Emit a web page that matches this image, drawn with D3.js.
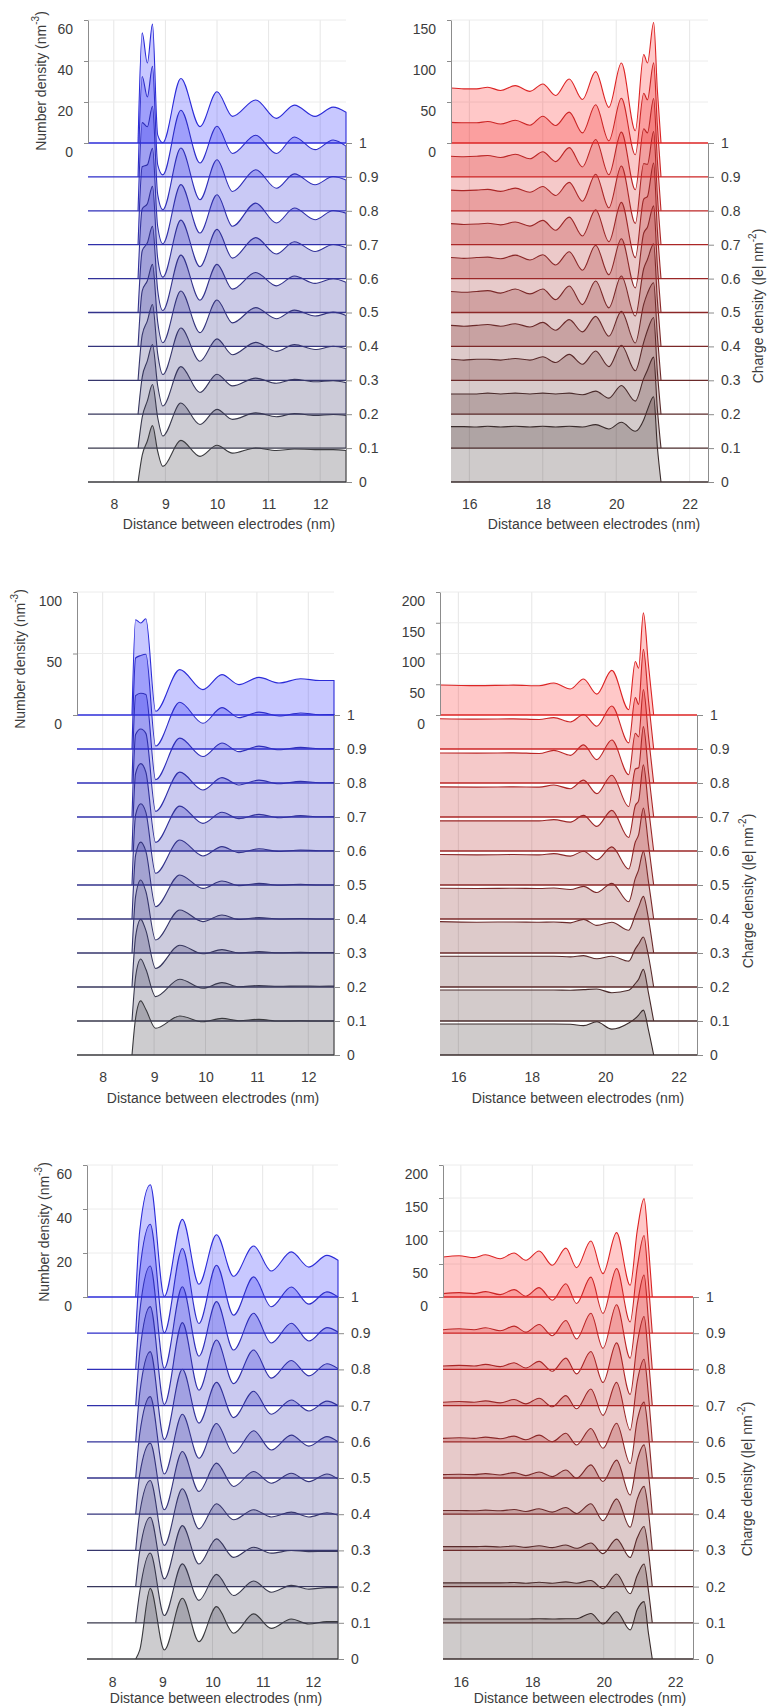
<!DOCTYPE html>
<html>
<head>
<meta charset="utf-8">
<script src="https://cdn.jsdelivr.net/npm/d3@7"></script>
<style>
  body { margin: 0; background: #fff; }
  text { font-family: "Liberation Sans", Arial, Helvetica, sans-serif; fill: #3c3c3c; }
</style>
</head>
<body>
<svg id="fig" width="767" height="1708"></svg>
<script>
// surface charge density of each curve (|e| nm^-2), bottom to top
const charges = [0, 0.1, 0.2, 0.3, 0.4, 0.5, 0.6, 0.7, 0.8, 0.9, 1];
const chargeLabels = ["0", "0.1", "0.2", "0.3", "0.4", "0.5", "0.6", "0.7", "0.8", "0.9", "1"];

const xTicksAnion = [8, 9, 10, 11, 12];
const xTicksCation = [16, 18, 20, 22];

// row 1, left: positions (nm) of the read-off points, then one density row per charge
const row1AnionX = [8.47, 8.55, 8.65, 8.75, 8.85, 8.95, 9.3, 9.67, 10.0, 10.3, 10.75, 11.15, 11.5, 11.9, 12.25, 12.5];
const row1Anion = [
  [0, 13, 20, 27.5, 15, 7.6, 20.3, 12.5, 17.9, 14.1, 16.6, 15.4, 16.1, 15.8, 15.8, 15.4],
  [0, 15, 23, 31, 15, 5.9, 22, 11.5, 18.9, 14, 17.2, 15.3, 16.9, 15.9, 16.4, 15.9],
  [0, 18, 26, 34, 14, 4, 23.2, 10.6, 19.5, 13.8, 17.6, 15.1, 17, 15.8, 16.3, 15.4],
  [0, 22, 29, 37, 13, 2.8, 25.5, 9.3, 20.2, 12.5, 18.5, 14.1, 17.4, 15, 16.6, 15.4],
  [0, 27, 32, 40, 12, 1.8, 27, 6.7, 22.6, 11.5, 18.9, 13.5, 17.7, 14.8, 16.7, 15.1],
  [0, 30, 34, 42, 11, 1, 28, 6, 23.5, 11.4, 19.5, 13, 17.8, 14.2, 16.5, 14.8],
  [0, 34, 36.5, 45, 10, 0.7, 28.5, 5.8, 24, 10, 20, 12, 18, 13.2, 16.6, 15],
  [0, 38, 39, 47, 9, 0.5, 29.3, 5.7, 24.4, 9, 20.3, 10.6, 17.9, 12.2, 16.7, 15.4],
  [0, 43, 41, 51, 8, 0.5, 30.6, 5.4, 24.9, 9.4, 20, 11, 18, 12.7, 16.7, 15],
  [0, 49, 39, 54, 6, 1, 32.5, 6.8, 24.7, 11.4, 20.3, 11.4, 19.5, 13.3, 18, 15],
  [0, 53.7, 39, 58, 4, 0.2, 31.5, 8, 25, 13, 21, 12, 18.5, 13, 17.5, 15]
];

// row 1, right
const row1CationX = [15.5, 15.85, 16.2, 16.5, 16.85, 17.25, 17.65, 18.0, 18.35, 18.72, 19.08, 19.44, 19.8, 20.14, 20.52, 20.75, 20.85, 21.02, 21.12, 21.22];
const row1Cation = [
  [67.5, 67.5, 67, 68, 67, 68, 67, 68, 67, 68, 67, 70, 64.6, 72.8, 61.8, 76, 88, 104, 43, 0],
  [66, 66, 66, 67, 66, 67, 66, 67, 66, 67, 65, 69.5, 61, 76.4, 57.3, 85, 95, 111, 48, 0],
  [67, 66, 67, 67, 66, 68, 66, 70, 63, 73, 61, 77, 58, 84, 53, 88, 102, 118, 52, 0],
  [67, 66, 67, 68, 66, 69, 65, 70.7, 61, 74, 59, 78, 53.7, 84, 45.5, 93, 106, 119, 55, 0],
  [67, 66, 67, 68, 65, 70, 64, 70, 57, 73.6, 51, 79.7, 47, 85.8, 37, 95, 106, 125, 57, 0],
  [67, 66, 67, 67.5, 65.5, 70, 64, 70.5, 58, 74, 51.5, 82, 46, 90, 30, 97, 104, 130, 58, 0],
  [67, 66, 66.5, 67.5, 65.5, 69, 64, 71, 59, 75, 52, 84, 45, 93, 25.6, 97, 100, 141, 60, 0],
  [66.5, 66, 66.5, 67.5, 65, 69, 64, 71, 60, 76, 53, 86, 45, 96, 26, 99, 98, 138, 61, 0],
  [66.5, 66, 66.5, 67.5, 65, 69, 63.5, 72, 60, 77, 53.5, 87, 44, 96, 25.6, 100, 95, 137, 62, 0],
  [66.5, 66, 66, 67.5, 64.5, 69, 63, 74, 62.6, 79, 53.7, 88, 44, 96, 27, 102, 94, 139, 63, 0],
  [67, 66, 66, 68, 64, 70, 63, 72, 58, 78, 53, 87, 43.5, 97.6, 15, 108, 97.6, 147, 65, 0]
];

// row 2, left
const row2AnionX = [8.57, 8.64, 8.74, 8.84, 9.03, 9.5, 9.95, 10.32, 10.65, 11.04, 11.43, 11.85, 12.22, 12.5];
const row2Anion = [
  [0, 30, 44, 37, 21.7, 31.7, 27, 29.8, 27.9, 29, 27.6, 27.8, 27.6, 27.6],
  [0, 36, 50.4, 42, 19.8, 33.9, 26.6, 31.2, 27.9, 28.8, 28.2, 28.5, 28.3, 28.4],
  [0, 41, 55, 46, 15, 33.9, 27, 30.4, 27.6, 28.8, 27.8, 28.2, 28, 28],
  [0, 46, 59.3, 50, 10.6, 35, 25.5, 30.9, 27.2, 28.8, 27.6, 28, 27.6, 27.6],
  [0, 52, 62.5, 55, 10, 35.8, 24.9, 30.9, 27.1, 29, 27.4, 28.2, 27.6, 27.6],
  [0, 57, 66, 59, 9.5, 36.6, 23.6, 31.2, 26.3, 29.5, 27.2, 28.5, 27.8, 27.9],
  [0, 63, 71, 64, 7, 36.5, 22.5, 31.5, 26.3, 29.8, 27, 28.8, 27.8, 28],
  [0, 67, 71.5, 68, 4.6, 36.5, 22, 32, 26, 30, 27, 29, 27.8, 28],
  [0, 71, 73, 72, 2.7, 36.5, 21.5, 32.5, 25.5, 30, 27, 29, 27.8, 28],
  [0, 74, 76, 77, 2.4, 38, 20.9, 33.6, 25.5, 30, 26.8, 29.3, 27.9, 28],
  [0, 77.5, 74.8, 78.3, 3, 36.9, 20.6, 32.8, 24.7, 30.6, 26, 29.5, 28, 28]
];

// row 2, right
const row2CationX = [15.5, 16.5, 17.5, 18.2, 18.6, 19.05, 19.41, 19.77, 20.18, 20.64, 20.82, 20.91, 21.04, 21.18, 21.32];
const row2Cation = [
  [50.4, 50.4, 50.4, 50.4, 50.4, 50, 47.7, 54, 42, 52, 59.6, 65, 73, 40, 0],
  [50.4, 50.4, 50.4, 50.4, 50.4, 50, 51, 52, 46, 50, 61, 68, 84, 45, 0],
  [50, 50, 50, 50, 50, 49, 51, 46, 50, 42, 62, 70, 81.3, 50, 0],
  [51, 50, 50.5, 50, 50.5, 49, 54.7, 45, 50, 37, 61.8, 75, 92, 55, 0],
  [50, 49.5, 50, 49.5, 50.5, 48, 53, 43, 58, 28, 66, 80, 110, 60, 0],
  [49.5, 49, 49.5, 49, 51, 47, 55, 41, 62, 26, 70, 82, 125, 65, 0],
  [49, 49, 49, 49, 51, 47, 58, 40, 66, 22, 74, 82, 140, 70, 0],
  [49, 48.5, 49, 48.5, 52, 46, 60, 38, 68, 17, 78, 80, 147, 72, 0],
  [48.8, 48.5, 49, 48, 53, 45, 62, 38, 70, 13.5, 81, 75, 152, 75, 0],
  [49.3, 48.5, 49, 48, 51, 44, 56, 37, 70, 10, 83.5, 72.6, 162, 78, 0],
  [48.8, 47.7, 48.5, 47.5, 52, 42.3, 58.5, 34, 72.6, 8.7, 87, 76, 166, 80, 0]
];

// row 3, left
const row3AnionX = [8.47, 8.55, 8.76, 9.04, 9.4, 9.73, 10.08, 10.42, 10.82, 11.17, 11.57, 11.92, 12.28, 12.5];
const row3Anion = [
  [0, 4, 32.1, 4.1, 27.6, 7.9, 23.8, 11.7, 20.5, 13.9, 18.2, 15.9, 17, 17],
  [0, 14, 31.7, 3.3, 26.8, 10.2, 22, 12.4, 19, 13.9, 17, 15.3, 16, 16],
  [0, 16, 31.5, 3.5, 27.7, 10.3, 21.7, 13.3, 17.9, 15.2, 16.4, 15.9, 16, 16],
  [0, 17, 31.8, 2.3, 28, 9.8, 21.2, 13.9, 18.5, 15.2, 17.4, 15.2, 17.1, 16],
  [0, 18, 32.3, 2, 28.5, 10.3, 23.2, 12.6, 19.4, 14.1, 18.6, 14.8, 18.3, 16],
  [0, 20, 37, 1.8, 29, 9, 24.8, 11.2, 21.5, 12.7, 19.5, 14.5, 18.8, 16.5],
  [0, 22, 41, 1, 33, 8.5, 27, 11, 23, 12.5, 19, 14, 18.5, 16.5],
  [0, 24, 45, 0.5, 37.7, 7, 29.8, 10, 25.3, 12.5, 20.5, 13.5, 19, 16.8],
  [0, 26, 47, 0.5, 37.6, 6, 30.8, 8.8, 25.5, 12, 21, 12.9, 19, 17],
  [0, 28, 49.5, 0.2, 38.5, 4.4, 30.9, 8.2, 25.6, 12, 21, 13.2, 18.8, 16.5],
  [0, 30, 51, 0.3, 35.3, 5.8, 28.3, 9.4, 23.2, 11.8, 20.5, 13.6, 18.9, 16.7]
];

// row 3, right
const row3CationX = [15.5, 15.95, 16.37, 16.69, 17.1, 17.49, 17.82, 18.19, 18.56, 18.94, 19.24, 19.64, 19.98, 20.36, 20.74, 20.94, 21.13, 21.25, 21.36];
const row3Cation = [
  [60.5, 60.5, 60.5, 60.5, 60.5, 60.5, 60.5, 61, 60.5, 61, 61, 69, 53, 71.7, 44, 75, 87, 40, 0],
  [60.5, 60.5, 60.5, 60.5, 60.5, 61, 60, 61.5, 60, 62, 60, 64, 52, 74, 44, 72, 89, 50, 0],
  [60.5, 60.5, 60.5, 61, 60, 61.5, 59.5, 62, 59, 63, 58, 66, 50, 72, 44, 74, 91, 55, 0],
  [60.5, 60.5, 60, 61, 60, 62, 59, 63, 58, 65, 56, 70.7, 45, 78, 35, 78, 97, 60, 0],
  [60, 60.5, 60, 61.5, 59.5, 63, 58.5, 64, 57, 67, 54.5, 74.7, 49.5, 82, 29, 82, 105, 64, 0],
  [60, 61, 60, 62, 59.5, 63.5, 58, 65, 55, 67.7, 50, 75, 45, 83, 22, 88, 115, 68, 0],
  [60, 61, 60, 62, 59, 64, 57.5, 66, 53, 70, 50, 80, 40, 90, 17.7, 92, 125, 72, 0],
  [60, 61, 60, 62.5, 59, 65, 57, 67, 52, 72, 48, 82, 35, 95, 17, 95, 135, 74, 0],
  [60, 61.5, 60, 63, 58.5, 65.5, 56.5, 68, 51, 74, 46, 85, 32, 98, 17, 98, 143, 76, 0],
  [60, 61.5, 60, 63, 58.5, 66, 56, 69, 50, 75, 45, 85, 30, 98, 17, 100, 148, 78, 0],
  [60.6, 62.6, 59.6, 64, 58, 66.7, 55.6, 69.7, 48, 74, 44.4, 84.8, 35.4, 97.5, 17.7, 101, 149, 80, 0]
];

// colours: neutral grey at charge 0 running to blue / red at charge 1
const anionLine = d3.interpolateRgb("#3a3a3e", "#2c2cd8");
const anionFill = d3.interpolateRgb("#38343e", "#2424ff");
const cationLine = d3.interpolateRgb("#3a2c2c", "#dc2424");
const cationFill = d3.interpolateRgb("#3e3030", "#ff2424");

const panels = [
  { xs: row1AnionX, vals: row1Anion, xDomain: [7.5, 12.5], xTicks: xTicksAnion, yMax: 60, yTicks: [0, 20, 40, 60],
    left: 88, right: 346, top: 20, base1: 143, base0: 482, line: anionLine, fill: anionFill,
    tickGap: 22, titleGap: 42, titleX: 229, yTitle: { x: 41, y: 81 } },
  { xs: row1CationX, vals: row1Cation, xDomain: [15.5, 22.5], xTicks: xTicksCation, yMax: 150, yTicks: [0, 50, 100, 150],
    left: 451, right: 708, top: 20, base1: 143, base0: 482, line: cationLine, fill: cationFill,
    tickGap: 22, titleGap: 42, titleX: 594, cTitle: { x: 758, y: 306 } },
  { xs: row2AnionX, vals: row2Anion, xDomain: [7.5, 12.5], xTicks: xTicksAnion, yMax: 100, yTicks: [0, 50, 100],
    left: 77, right: 334, top: 592, base1: 715, base0: 1055, line: anionLine, fill: anionFill,
    tickGap: 22, titleGap: 43, titleX: 213, yTitle: { x: 20, y: 659 } },
  { xs: row2CationX, vals: row2Cation, xDomain: [15.5, 22.5], xTicks: xTicksCation, yMax: 200, yTicks: [0, 50, 100, 150, 200],
    left: 440, right: 697, top: 592, base1: 715, base0: 1055, line: cationLine, fill: cationFill,
    tickGap: 22, titleGap: 43, titleX: 578, cTitle: { x: 748, y: 891 } },
  { xs: row3AnionX, vals: row3Anion, xDomain: [7.5, 12.5], xTicks: xTicksAnion, yMax: 60, yTicks: [0, 20, 40, 60],
    left: 87, right: 338, top: 1165, base1: 1297, base0: 1659, line: anionLine, fill: anionFill,
    tickGap: 23, titleGap: 39, titleX: 216, yTitle: { x: 44, y: 1232 } },
  { xs: row3CationX, vals: row3Cation, xDomain: [15.5, 22.5], xTicks: xTicksCation, yMax: 200, yTicks: [0, 50, 100, 150, 200],
    left: 443, right: 693, top: 1165, base1: 1297, base0: 1659, line: cationLine, fill: cationFill,
    tickGap: 23, titleGap: 39, titleX: 580, cTitle: { x: 747, y: 1479 } }
];

const svg = d3.select("#fig");
const axisGrey = "#8c8c8c";

panels.forEach(p => {
  const g = svg.append("g");

  const x = d3.scaleLinear().domain(p.xDomain).range([p.left, p.right]);
  const y = d3.scaleLinear().domain([0, p.yMax]).range([p.base1, p.top]);
  // baseline of each curve, by charge
  const base = d3.scaleLinear().domain([0, 1]).range([p.base0, p.base1]);

  // grid
  g.append("g").selectAll("line").data(p.xTicks).join("line")
    .attr("x1", d => x(d)).attr("x2", d => x(d))
    .attr("y1", p.top).attr("y2", p.base0)
    .attr("stroke", "#e6e6e6");
  g.append("g").selectAll("line").data(p.yTicks.filter(d => d > 0)).join("line")
    .attr("x1", p.left).attr("x2", p.right)
    .attr("y1", d => y(d)).attr("y2", d => y(d))
    .attr("stroke", "#ececec");

  const series = charges.map((c, i) => ({ c, vals: p.vals[i] }));
  const yOf = (c, v) => base(c) + y(v) - y(0);

  // filled ridges
  g.append("g").selectAll("path").data(series).join("path")
    .attr("d", s => d3.area().curve(d3.curveMonotoneX)
      .x((d, j) => x(p.xs[j]))
      .y0(base(s.c))
      .y1(d => yOf(s.c, d))(s.vals))
    .attr("fill", s => p.fill(s.c))
    .attr("fill-opacity", 0.25);

  // ridge outlines
  g.append("g").selectAll("path").data(series).join("path")
    .attr("d", s => d3.line().curve(d3.curveMonotoneX)
      .x((d, j) => x(p.xs[j]))
      .y(d => yOf(s.c, d))(s.vals) + "V" + base(s.c))
    .attr("fill", "none")
    .attr("stroke", s => p.line(s.c))
    .attr("stroke-width", 1.1);

  // baselines
  g.append("g").selectAll("line").data(charges).join("line")
    .attr("x1", p.left).attr("x2", p.right)
    .attr("y1", d => base(d)).attr("y2", d => base(d))
    .attr("stroke", d => p.line(d))
    .attr("stroke-width", 1.3);

  // number density axis (top part only)
  const ly = g.append("g")
    .attr("transform", `translate(${p.left},0)`)
    .call(d3.axisLeft(y).tickValues(p.yTicks).tickFormat(d3.format("d"))
      .tickSize(4).tickSizeOuter(0).tickPadding(11));
  ly.selectAll("text").attr("transform", "translate(0,9)");

  // charge axis
  const ry = g.append("g")
    .attr("transform", `translate(${p.right},0)`)
    .call(d3.axisRight(base).tickValues(charges).tickFormat((d, i) => chargeLabels[i])
      .tickSize(6).tickSizeOuter(0).tickPadding(7));

  // distance axis
  const bx = g.append("g")
    .attr("transform", `translate(0,${p.base0})`)
    .call(d3.axisBottom(x).tickValues(p.xTicks).tickFormat(d3.format("d"))
      .tickSize(0).tickPadding(p.tickGap - 5));
  bx.select(".domain").remove();

  [ly, ry, bx].forEach(a => {
    a.selectAll("text").attr("font-size", 14).attr("font-family", null).style("fill", "#3c3c3c");
    a.selectAll(".domain, .tick line").attr("stroke", axisGrey);
  });

  g.append("text")
    .attr("x", p.titleX).attr("y", p.base0 + p.titleGap)
    .attr("text-anchor", "middle").attr("dominant-baseline", "central")
    .attr("font-size", 14)
    .text("Distance between electrodes (nm)");

  if (p.yTitle) {
    const t = g.append("text")
      .attr("transform", `translate(${p.yTitle.x},${p.yTitle.y}) rotate(-90)`)
      .attr("text-anchor", "middle").attr("dominant-baseline", "central")
      .attr("font-size", 14);
    t.append("tspan").text("Number density (nm");
    t.append("tspan").attr("font-size", 10).attr("dy", -6).text("-3");
    t.append("tspan").attr("dy", 6).text(")");
  }
  if (p.cTitle) {
    const t = g.append("text")
      .attr("transform", `translate(${p.cTitle.x},${p.cTitle.y}) rotate(-90)`)
      .attr("text-anchor", "middle").attr("dominant-baseline", "central")
      .attr("font-size", 14);
    t.append("tspan").text("Charge density (|e| nm");
    t.append("tspan").attr("font-size", 10).attr("dy", -6).text("-2");
    t.append("tspan").attr("dy", 6).text(")");
  }
});
</script>
</body>
</html>
